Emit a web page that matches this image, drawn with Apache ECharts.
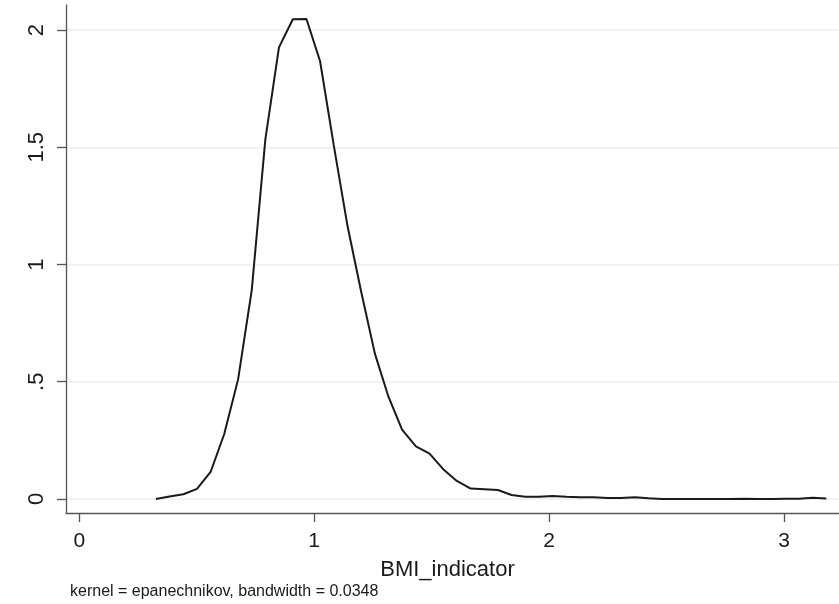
<!DOCTYPE html>
<html>
<head>
<meta charset="utf-8">
<script src="https://cdn.jsdelivr.net/npm/echarts@6/dist/echarts.min.js"></script>
<style>
html,body{margin:0;padding:0;background:#fff;}
#c{width:839px;height:604px;}
</style>
</head>
<body>
<div id="c"></div>
<script>
// BMI_indicator grid points (x) and kernel density estimates (y)
var xValues = [0.326,0.384,0.443,0.501,0.559,0.617,0.676,0.734,0.792,0.850,
  0.909,0.967,1.025,1.083,1.142,1.200,1.258,1.316,1.374,1.433,
  1.491,1.549,1.607,1.666,1.724,1.782,1.840,1.899,1.957,2.015,
  2.073,2.132,2.190,2.248,2.306,2.365,2.423,2.481,2.539,2.598,
  2.656,2.714,2.772,2.831,2.889,2.947,3.005,3.064,3.122,3.180];
var densityValues = [0.000,0.010,0.020,0.043,0.115,0.277,0.510,0.890,1.534,1.926,
  2.046,2.047,1.867,1.510,1.163,0.884,0.621,0.436,0.296,0.224,
  0.193,0.127,0.077,0.044,0.041,0.038,0.017,0.009,0.009,0.012,
  0.009,0.007,0.007,0.004,0.004,0.007,0.003,0.000,0.000,0.000,
  0.000,0.000,0.000,0.001,0.000,0.000,0.001,0.001,0.005,0.002];
var xTicks = [0,1,2,3];
var yTicks = [0,0.5,1,1.5,2];
var yTickLabels = ['0','.5','1','1.5','2'];
var xTitle = 'BMI_indicator';
var noteText = 'kernel = epanechnikov, bandwidth = 0.0348';

var chart = echarts.init(document.getElementById('c'), null, {renderer:'canvas'});
var pts = xValues.map(function(x,i){return [x, densityValues[i]];});
var font = '"Liberation Sans", Arial, Helvetica, sans-serif';
chart.setOption({
  animation:false,
  backgroundColor:'#ffffff',
  grid:{left:66, right:0, top:5, bottom:91, containLabel:false},
  xAxis:{
    type:'value', min:-0.0566, max:3.234,
    axisLine:{show:true, onZero:false, lineStyle:{color:'#555555', width:1.3}},
    axisTick:{show:true, inside:false, length:9, lineStyle:{color:'#555555', width:1.3}, customValues:xTicks},
    axisLabel:{show:true, fontSize:21, color:'#1a1a1a', fontFamily:font, margin:18, customValues:xTicks,
      formatter:function(v){return String(v);}},
    splitLine:{show:false},
    name:xTitle, nameLocation:'middle', nameGap:46,
    nameTextStyle:{fontSize:22, color:'#1a1a1a', fontFamily:font, padding:[0,10,0,0]}
  },
  yAxis:{
    type:'value', min:-0.06, max:2.107,
    axisLine:{show:true, onZero:false, lineStyle:{color:'#555555', width:1.3}},
    axisTick:{show:true, inside:false, length:9, lineStyle:{color:'#555555', width:1.3}, customValues:yTicks},
    axisLabel:{show:true, rotate:90, fontSize:22, color:'#1a1a1a', fontFamily:font, margin:18, customValues:yTicks,
      formatter:function(v){var i=yTicks.indexOf(v);return i>=0?yTickLabels[i]:'';}},
    splitLine:{show:false}
  },
  graphic:[{
    type:'text', left:70, top:584,
    style:{text:noteText, fontSize:16, fill:'#1a1a1a', font:'16px '+font}
  }],
  series:[{
    type:'line', data:pts, showSymbol:false, symbol:'none',
    lineStyle:{color:'#1a1a1a', width:2},
    markLine:{
      silent:true, symbol:['none','none'], label:{show:false},
      lineStyle:{color:'#eeeeee', width:1.5, type:'solid'},
      data:yTicks.map(function(v){return {yAxis:v};}),
      z:-1
    },
    z:3
  }]
});
</script>
</body>
</html>
